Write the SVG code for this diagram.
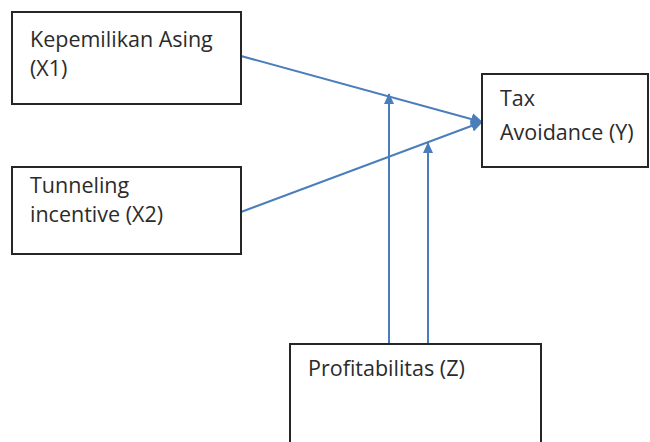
<svg xmlns="http://www.w3.org/2000/svg" width="650" height="442" viewBox="0 0 650 442">
<defs>
<style>
.box{fill:#fff;stroke:#262626;stroke-width:2}
.lbl{font-family:"Open Sans","Liberation Sans",sans-serif;font-size:21.5px;fill:#2b2b2b}
.con{stroke:#4a7ebb;stroke-width:2;fill:none}
</style>
<marker id="ah" markerWidth="12" markerHeight="12" refX="11" refY="6" orient="auto" markerUnits="userSpaceOnUse" viewBox="0 0 12 12">
<path d="M0,0 L12,6 L0,12 z" fill="#4a7ebb"/>
</marker>
<marker id="ahs" markerWidth="11" markerHeight="10" refX="10" refY="5" orient="auto" markerUnits="userSpaceOnUse" viewBox="0 0 11 10">
<path d="M0,0 L11,5 L0,10 z" fill="#4a7ebb"/>
</marker>
</defs>
<rect width="650" height="442" fill="#fff"/>
<g id="connectors">
<line class="con" x1="241" y1="56" x2="482" y2="122" marker-end="url(#ah)"/>
<line class="con" x1="241" y1="212" x2="482" y2="122" marker-end="url(#ah)"/>
<line class="con" x1="389" y1="344" x2="389" y2="94" marker-end="url(#ahs)"/>
<line class="con" x1="428" y1="344" x2="428" y2="143" marker-end="url(#ahs)"/>
</g>
<g id="node-x1">
<rect class="box" x="12" y="12" width="229" height="92"/>
<text class="lbl" x="30" y="47">Kepemilikan Asing</text>
<text class="lbl" x="30" y="76">(X1)</text>
</g>
<g id="node-x2">
<rect class="box" x="12" y="167" width="229" height="87"/>
<text class="lbl" x="30" y="193">Tunneling</text>
<text class="lbl" x="30" y="222">incentive (X2)</text>
</g>
<g id="node-y">
<rect class="box" x="482" y="74" width="166" height="93"/>
<text class="lbl" x="500" y="106">Tax</text>
<text class="lbl" x="500" y="140">Avoidance (Y)</text>
</g>
<g id="node-z">
<rect class="box" x="290" y="344" width="251" height="110"/>
<text class="lbl" x="308" y="376">Profitabilitas (Z)</text>
</g>
</svg>
